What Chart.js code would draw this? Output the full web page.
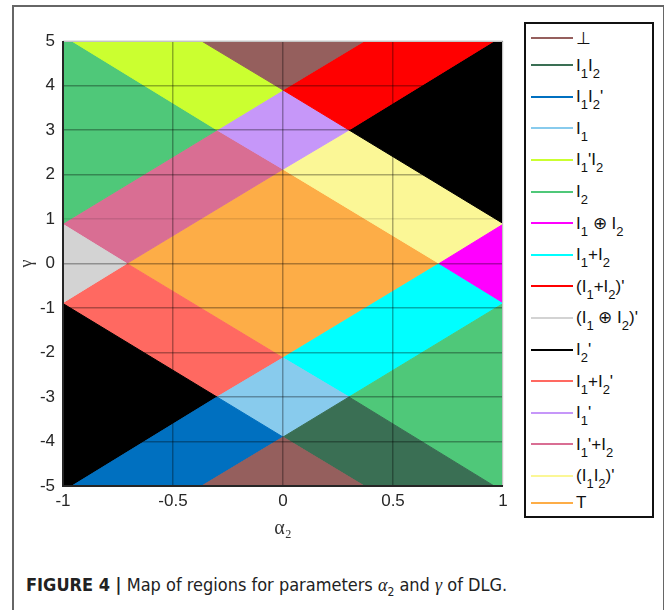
<!DOCTYPE html>
<html>
<head>
<meta charset="utf-8">
<script src="https://cdn.jsdelivr.net/npm/chart.js@4/dist/chart.umd.min.js"></script>
<style>
  body { margin: 0; background: #fff; width: 667px; height: 610px; position: relative; overflow: hidden; }
  .fr { position: absolute; background: #666; z-index: 5; }
  #wrap { position: absolute; left: 0; top: 0; width: 520px; height: 560px; }
  #legend { position: absolute; left: 524px; top: 22px; width: 130px; height: 496px;
    border: 2px solid #111; box-sizing: border-box; padding-top: 3px; background: #fff;
    font-family: "Liberation Sans", Arial, sans-serif; color: #111; }
  .row { display: flex; align-items: center; }
  .swatch { width: 42px; height: 2px; margin-left: 5px; margin-right: 3px; }
  .lbl { font-size: 17px; line-height: 17px; white-space: nowrap; }
  .lbl sub { font-size: 13px; vertical-align: -7px; line-height: 0; }
  #caption { position: absolute; left: 26px; top: 574px; font-family: "Liberation Sans Narrow", "DejaVu Sans Condensed", Arial, sans-serif;
    font-size: 18px; color: #222; white-space: nowrap; }
  #caption i { font-family: "Liberation Serif", serif; }
  #caption sub { font-size: 12px; }
</style>
</head>
<body>
<div id="wrap"><canvas id="chart"></canvas></div>
<div id="legend"></div>
<div id="caption"><b>FIGURE 4 |</b> Map of regions for parameters <i>α</i><sub>2</sub> and <i>γ</i> of DLG.</div>
<div class="fr" style="left:12px;top:5px;width:652px;height:1.5px"></div>
<div class="fr" style="left:12px;top:5px;width:1.5px;height:610px"></div>
<div class="fr" style="left:662.5px;top:5px;width:1.5px;height:610px"></div>
<script>
// legend order, labels and colours
const labels = ["⊥", "I_1I_2", "I_1I_2'", "I_1", "I_1'I_2", "I_2", "I_1 ⊕ I_2", "I_1+I_2",
  "(I_1+I_2)'", "(I_1 ⊕ I_2)'", "I_2'", "I_1+I_2'", "I_1'", "I_1'+I_2", "(I_1I_2)'", "T"];
const colors = ["#955f5d", "#3a6f54", "#0070c0", "#88cbed", "#cbff30", "#4fc879", "#ff00ff", "#00ffff",
  "#ff0000", "#d3d3d3", "#000000", "#ff6961", "#c697f9", "#d96e93", "#fbf796", "#fdad47"];

const xTicks = [-1, -0.5, 0, 0.5, 1];
const yTicks = [-5, -4, -3, -2, -1, 0, 1, 2, 3, 4, 5];

// region polygons, [alpha2, gamma] vertices
const botTop = [[-0.37, 5], [0.37, 5], [0, 3.9]];
const botBottom = [[-0.37, -5], [0, -3.9], [0.37, -5]];
const i1i2 = [[0, -3.9], [0.3, -3], [0.96, -5], [0.37, -5]];
const i1i2n = [[-0.3, -3], [0, -3.9], [-0.37, -5], [-0.96, -5]];
const i1 = [[-0.3, -3], [0, -2.12], [0.3, -3], [0, -3.9]];
const i1ni2 = [[-0.96, 5], [-0.37, 5], [0, 3.9], [-0.3, 3]];
const i2Top = [[-1, 5], [-0.96, 5], [-0.3, 3], [-1, 0.9]];
const i2Bottom = [[0.3, -3], [1, -0.9], [1, -5], [0.96, -5]];
const xorReg = [[0.71, 0], [1, 0.88], [1, -0.88]];
const orReg = [[0, -2.12], [0.71, 0], [1, -0.88], [1, -0.9], [0.3, -3]];
const norReg = [[0.37, 5], [0.96, 5], [0.3, 3], [0, 3.9]];
const xnorReg = [[-1, 0.88], [-0.71, 0], [-1, -0.88]];
const i2nTop = [[0.96, 5], [1, 5], [1, 0.9], [0.3, 3]];
const i2nBottom = [[-1, -0.9], [-0.3, -3], [-0.96, -5], [-1, -5]];
const i1ori2n = [[-1, -0.9], [-1, -0.88], [-0.71, 0], [0, -2.12], [-0.3, -3]];
const i1n = [[-0.3, 3], [0, 3.9], [0.3, 3], [0, 2.12]];
const i1nori2 = [[-1, 0.9], [-0.3, 3], [0, 2.12], [-0.71, 0], [-1, 0.88]];
const nandReg = [[0, 2.12], [0.3, 3], [1, 0.9], [1, 0.88], [0.71, 0]];
const topReg = [[-0.71, 0], [0, 2.12], [0.71, 0], [0, -2.12]];

// which legend entry each polygon belongs to
const regions = [
  [botTop, 0], [botBottom, 0], [i1i2, 1], [i1i2n, 2], [i1, 3], [i1ni2, 4], [i2Top, 5], [i2Bottom, 5],
  [xorReg, 6], [orReg, 7], [norReg, 8], [xnorReg, 9], [i2nTop, 10], [i2nBottom, 10], [i1ori2n, 11],
  [i1n, 12], [i1nori2, 13], [nandReg, 14], [topReg, 15]
];

const datasets = regions.map(([pts, k]) => ({
  label: labels[k],
  data: pts.concat([pts[0]]).map(([x, y]) => ({ x, y })),
  showLine: true,
  fill: "shape",
  backgroundColor: colors[k],
  borderColor: colors[k],
  borderWidth: 1,
  pointRadius: 0,
  tension: 0,
}));

const gridColor = (c) => (c.tick && (Math.abs(c.tick.value) === 5 || c.tick.value === 1) ? "rgba(0,0,0,0.1)" : "rgba(0,0,0,0.32)");

// plot box: light top/right edges, dark left/bottom axes
const boxPlugin = {
  id: "box",
  afterDraw(chart) {
    const { ctx, chartArea: a } = chart;
    ctx.save();
    ctx.strokeStyle = "#c4c4c4";
    ctx.lineWidth = 1;
    ctx.beginPath();
    ctx.moveTo(a.left, a.top + 0.5);
    ctx.lineTo(a.right - 0.5, a.top + 0.5);
    ctx.lineTo(a.right - 0.5, a.bottom);
    ctx.stroke();
    ctx.strokeStyle = "#262626";
    ctx.lineWidth = 2;
    ctx.beginPath();
    ctx.moveTo(a.left, a.top);
    ctx.lineTo(a.left, a.bottom);
    ctx.lineTo(a.right, a.bottom);
    ctx.stroke();
    ctx.restore();
  },
};

const tickFont = { family: "'Liberation Sans', Arial, sans-serif", size: 17 };

new Chart(document.getElementById("chart"), {
  type: "scatter",
  data: { datasets },
  plugins: [boxPlugin],
  options: {
    responsive: true,
    maintainAspectRatio: false,
    animation: false,
    layout: { padding: { top: 41, right: 17, left: 0, bottom: 0 } },
    plugins: { legend: { display: false }, tooltip: { enabled: false } },
    scales: {
      x: {
        type: "linear", min: -1, max: 1,
        afterBuildTicks: (s) => { s.ticks = xTicks.map((v) => ({ value: v })); },
        afterFit: (s) => { s.height = 74; },
        ticks: { font: tickFont, color: "#262626", padding: 5, z: 1, callback: (v) => String(v) },
        grid: { color: gridColor, lineWidth: 1.5, drawTicks: false, z: 1 },
        border: { display: false },
        title: { display: true, text: "α₂", color: "#333", font: { family: "'Liberation Serif', serif", size: 20 }, padding: { top: 0, bottom: 19 } },
      },
      y: {
        type: "linear", min: -5, max: 5,
        afterBuildTicks: (s) => { s.ticks = yTicks.map((v) => ({ value: v })); },
        afterFit: (s) => { s.width = 63; },
        ticks: { font: tickFont, color: "#262626", padding: 8, z: 1, callback: (v) => String(v) },
        grid: { color: gridColor, lineWidth: 1.5, drawTicks: false, z: 1 },
        border: { display: false },
        title: { display: true, text: "γ", color: "#333", font: { family: "'Liberation Serif', serif", size: 18 }, padding: { top: 16, bottom: 0 } },
      },
    },
  },
});

// HTML legend so subscripts render like the original
const legendEl = document.getElementById("legend");
labels.forEach((lab, i) => {
  const row = document.createElement("div");
  row.className = "row";
  row.style.height = (lab.includes("_") ? 31.6 : 22.4) + "px";
  const sw = document.createElement("span");
  sw.className = "swatch";
  sw.style.background = colors[i];
  const tx = document.createElement("span");
  tx.className = "lbl";
  tx.innerHTML = lab.replace(/_(\d)/g, "<sub>$1</sub>");
  row.append(sw, tx);
  legendEl.append(row);
});
</script>
</body>
</html>
